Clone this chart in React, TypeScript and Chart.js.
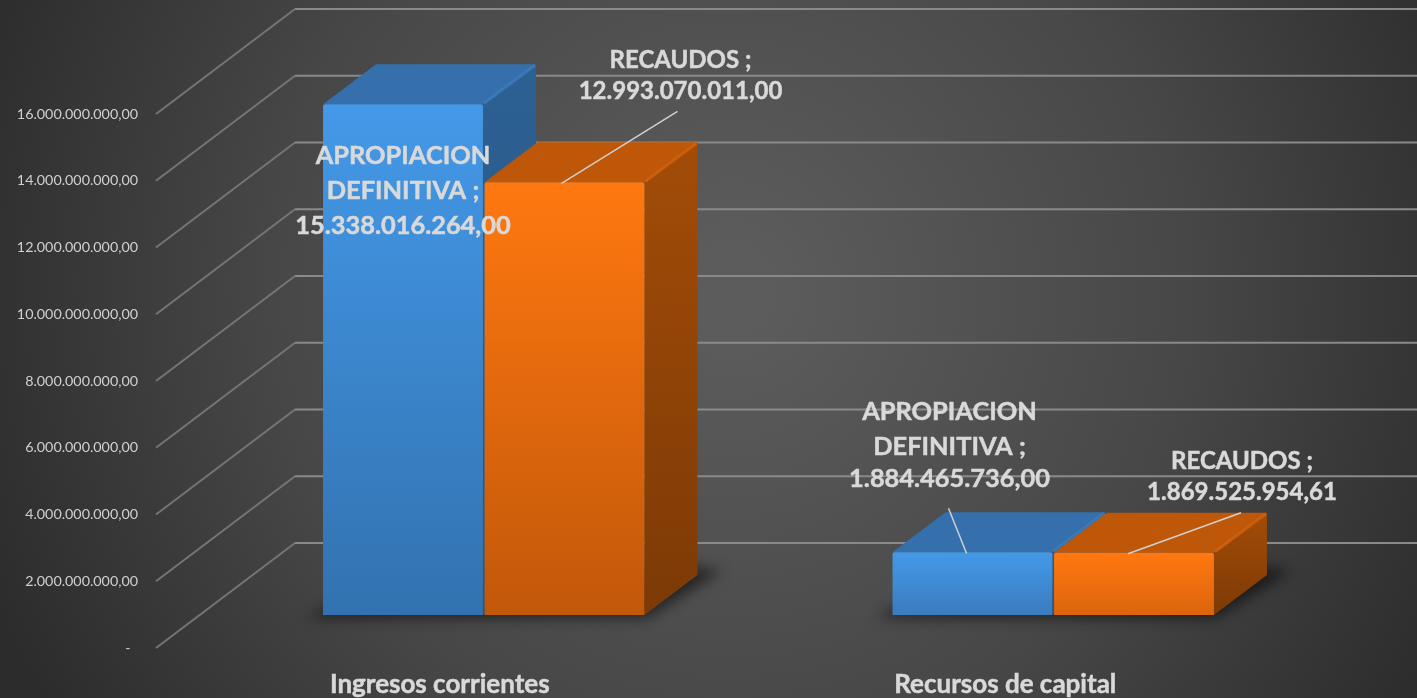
import React, { useEffect, useRef } from "react";
import Chart from "chart.js/auto";

const categories = ["Ingresos corrientes", "Recursos de capital"];
const apropiacion = [15338016264.0, 1884465736.0];
const recaudos = [12993070011.0, 1869525954.61];
const seriesLabelLines = [["APROPIACION", "DEFINITIVA ;"], ["RECAUDOS ;"]];

const WIDTH = 1417;
const HEIGHT = 698;
const WALL_DX = 139;
const WALL_DY = 105;
const BAR_SHIFT = 43;
const BAR_DX = 53;
const BAR_DY = 40;
const TEXT = "#d9d9d9";
const TICK_NUDGE = [1, 5];
const LABEL_SIZE = [25.4, 24];

const faces = [
  { top: "#3570ac", topEdge: "#3d80c4", sideTop: "#2d6093", sideBottom: "#275683", frontTop: "#4499e8", frontBottomTall: "#3272b0", frontBottomShort: "#3a7cbe" },
  { top: "#bf5708", topEdge: "#d9650b", sideTop: "#a34c08", sideBottom: "#7c3a05", frontTop: "#ff7810", frontBottomTall: "#c2580a", frontBottomShort: "#dc640d" },
];

// label layout relative to each bar's top-centre: [dataset][category]
const labelLayout = [
  [
    { dx: 0, lines: [52, 87, 122], leader: null },
    { dx: -23, lines: [-140, -105, -73], leader: { from: [-24, -44], to: [-6, 1] } },
  ],
  [
    { dx: 116, lines: [-122, -91], leader: { from: [113, -71], to: [-3, 1] } },
    { dx: 108, lines: [-91, -60], leader: { from: [107, -40], to: [-6, 1] } },
  ],
];

const fmt = (v: number) => {
  const [i, d] = v.toFixed(2).split(".");
  return i.replace(/\B(?=(\d{3})+(?!\d))/g, ".") + "," + d;
};

const scene = {
  id: "scene",
  beforeDraw(chart: any) {
    const { ctx } = chart;
    const g = ctx.createRadialGradient(730, 290, 40, 730, 290, 800);
    g.addColorStop(0, "#5c5c5c");
    g.addColorStop(0.55, "#474747");
    g.addColorStop(1, "#2c2c2c");
    ctx.save();
    ctx.fillStyle = g;
    ctx.fillRect(0, 0, WIDTH, HEIGHT);
    ctx.restore();
  },
  beforeDatasetsDraw(chart: any) {
    const { ctx, scales, chartArea } = chart;
    ctx.save();
    // gridlines: floor diagonal then back wall
    scales.y.ticks.forEach((t: any) => {
      const y = scales.y.getPixelForValue(t.value);
      const x0 = chartArea.left;
      ctx.lineWidth = 2;
      ctx.strokeStyle = "#757575";
      ctx.beginPath();
      ctx.moveTo(x0, y);
      ctx.lineTo(x0 + WALL_DX, y - WALL_DY);
      ctx.stroke();
      ctx.strokeStyle = "#8a8a8a";
      ctx.beginPath();
      ctx.moveTo(x0 + WALL_DX, y - WALL_DY);
      ctx.lineTo(WIDTH, y - WALL_DY);
      ctx.stroke();
    });
    ctx.restore();

    ctx.save();
    ctx.translate(BAR_SHIFT, 0);
    const metas = [chart.getDatasetMeta(0), chart.getDatasetMeta(1)];
    // floor shadows
    categories.forEach((_, c) => {
      const a = metas[0].data[c];
      const b = metas[1].data[c];
      const L = a.x - a.width / 2;
      const R = b.x + b.width / 2;
      const base = a.base;
      ctx.save();
      ctx.filter = "blur(7px)";
      ctx.fillStyle = "rgba(0,0,0,0.55)";
      ctx.beginPath();
      ctx.moveTo(L - 16, base + 3);
      ctx.lineTo(R + 2, base + 3);
      ctx.lineTo(R + BAR_DX + 24, base - BAR_DY - 4);
      ctx.lineTo(R + BAR_DX, base - BAR_DY - 8);
      ctx.lineTo(L, base - 6);
      ctx.closePath();
      ctx.fill();
      ctx.restore();
    });
    // side and top faces, back to front
    metas.forEach((meta, d) => {
      const f = faces[d];
      meta.data.forEach((el: any) => {
        const L = el.x - el.width / 2;
        const R = el.x + el.width / 2;
        const T = el.y;
        const B = el.base;
        const sg = ctx.createLinearGradient(0, T - BAR_DY, 0, B);
        sg.addColorStop(0, f.sideTop);
        sg.addColorStop(1, f.sideBottom);
        ctx.fillStyle = sg;
        ctx.beginPath();
        ctx.moveTo(R, T);
        ctx.lineTo(R + BAR_DX, T - BAR_DY);
        ctx.lineTo(R + BAR_DX, B - BAR_DY);
        ctx.lineTo(R, B);
        ctx.closePath();
        ctx.fill();
        ctx.fillStyle = f.top;
        ctx.beginPath();
        ctx.moveTo(L, T);
        ctx.lineTo(L + BAR_DX, T - BAR_DY);
        ctx.lineTo(R + BAR_DX, T - BAR_DY);
        ctx.lineTo(R, T);
        ctx.closePath();
        ctx.fill();
        ctx.strokeStyle = f.topEdge;
        ctx.globalAlpha = 0.7;
        ctx.lineWidth = 3;
        ctx.beginPath();
        ctx.moveTo(R + 1, T - 1);
        ctx.lineTo(R + BAR_DX - 1, T - BAR_DY + 1);
        ctx.stroke();
        ctx.globalAlpha = 1;
      });
    });
  },
  afterDatasetsDraw(chart: any) {
    const { ctx } = chart;
    ctx.textAlign = "center";
    ctx.textBaseline = "middle";
    [apropiacion, recaudos].forEach((values, d) => {
      const meta = chart.getDatasetMeta(d);
      ctx.font = `bold ${LABEL_SIZE[d]}px Lato`;
      values.forEach((v, c) => {
        const el = meta.data[c];
        const lay = labelLayout[d][c];
        if (lay.leader) {
          ctx.strokeStyle = "#d0d0d0";
          ctx.lineWidth = 1.5;
          ctx.beginPath();
          ctx.moveTo(el.x + lay.leader.from[0], el.y + lay.leader.from[1]);
          ctx.lineTo(el.x + lay.leader.to[0], el.y + lay.leader.to[1]);
          ctx.stroke();
        }
        const lines = [...seriesLabelLines[d], fmt(v)];
        ctx.fillStyle = TEXT;
        ctx.strokeStyle = TEXT;
        ctx.lineWidth = 0.5;
        lines.forEach((t, i) => {
          ctx.fillText(t, el.x + lay.dx, el.y + lay.lines[i]);
          ctx.strokeText(t, el.x + lay.dx, el.y + lay.lines[i]);
        });
      });
    });
    ctx.restore();
  },
};

const frontFill = (d: number) => (ctx: any) => {
  const chart = ctx.chart;
  const f = faces[d];
  const y2 = chart.scales.y2;
  if (!y2 || ctx.dataIndex === undefined) return f.frontTop;
  const v = ctx.raw as number;
  const top = y2.getPixelForValue(v);
  const base = y2.getPixelForValue(0);
  if (!Number.isFinite(top) || !Number.isFinite(base)) return f.frontTop;
  const g = chart.ctx.createLinearGradient(0, top, 0, base);
  g.addColorStop(0, f.frontTop);
  g.addColorStop(1, base - top > 200 ? f.frontBottomTall : f.frontBottomShort);
  return g;
};

export default function App() {
  const ref = useRef<HTMLCanvasElement>(null);
  useEffect(() => {
    const chart = new Chart(ref.current!, {
      type: "bar",
      data: {
        labels: categories,
        datasets: [
          { label: "APROPIACION DEFINITIVA", data: apropiacion, yAxisID: "y2", clip: false, backgroundColor: frontFill(0), borderRadius: 2 },
          { label: "RECAUDOS", data: recaudos, yAxisID: "y2", clip: false, backgroundColor: frontFill(1), borderRadius: 2 },
        ],
      } as any,
      options: {
        animation: false,
        responsive: false,
        layout: { padding: { top: 114, right: 122, left: 0, bottom: 0 } },
        categoryPercentage: 0.5712,
        barPercentage: 0.99,
        plugins: { legend: { display: false }, tooltip: { enabled: false } },
        scales: {
          x: {
            grid: { display: false },
            border: { display: false },
            ticks: {
              color: TEXT,
              font: { family: "Lato", weight: "bold", size: 26 },
              padding: 13,
              maxRotation: 0,
              textStrokeColor: TEXT,
              textStrokeWidth: 0.5,
            },
            afterFit: (s: any) => {
              s.height = 50;
              if (!s._nudged) {
                const orig = s.getPixelForTick.bind(s);
                s.getPixelForTick = (i: number) => orig(i) - TICK_NUDGE[i];
                s._nudged = true;
              }
            },
          },
          y: {
            min: 0,
            max: 16000000000,
            grid: { display: false },
            border: { display: false },
            ticks: {
              stepSize: 2000000000,
              color: "#d0d0d0",
              font: { family: "Lato", size: 14.3 },
              padding: 10,
              callback: (v: any) => (v === 0 ? "-  " : fmt(Number(v))),
            },
            afterFit: (s: any) => { s.width = 156; },
          },
          y2: { display: false, min: -991000000, max: 15045000000 },
        },
      } as any,
      plugins: [scene],
    });
    return () => chart.destroy();
  }, []);
  return (
    <div style={{ position: "absolute", left: 0, top: 0, width: WIDTH, height: HEIGHT }}>
      <canvas ref={ref} width={WIDTH} height={HEIGHT} style={{ display: "block" }} />
    </div>
  );
}
